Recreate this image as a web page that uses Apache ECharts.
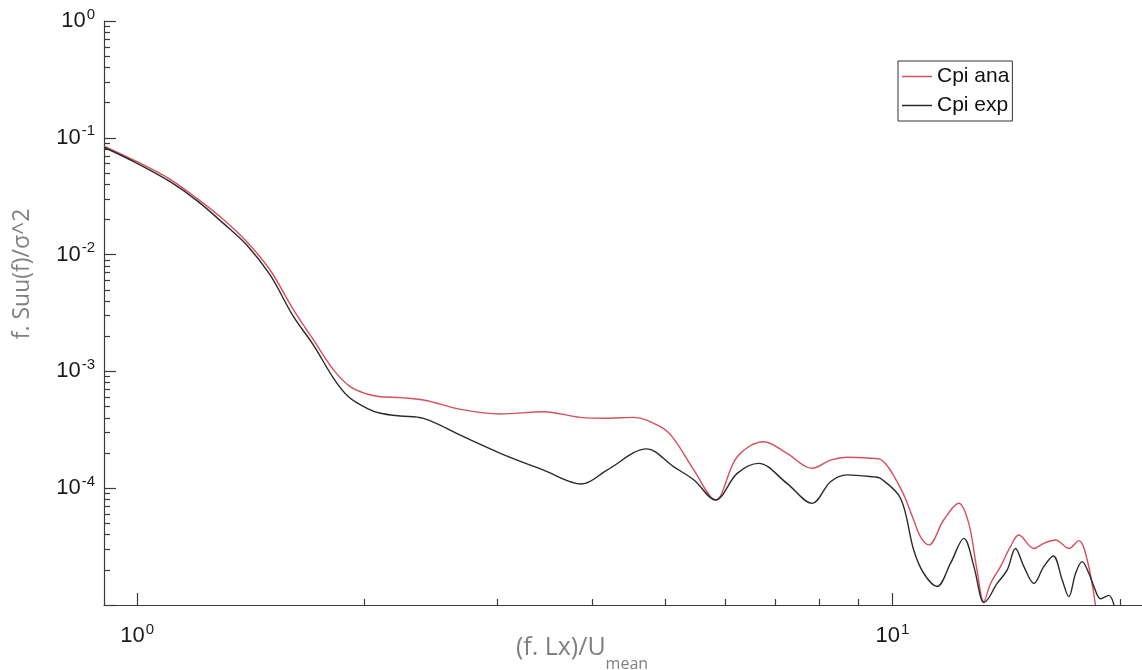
<!DOCTYPE html>
<html>
<head>
<meta charset="utf-8">
<script src="https://cdn.jsdelivr.net/npm/echarts@6/dist/echarts.min.js"></script>
<style>
  html, body { margin: 0; padding: 0; background: #fff; }
  #chart { width: 1142px; height: 670px; }
</style>
</head>
<body>
<div id="chart"></div>
<script>
// Normalised spectrum f.Suu(f)/sigma^2 against reduced frequency (f.Lx)/U_mean
const anaX = [0.904, 1.0, 1.106, 1.2, 1.301, 1.397, 1.5, 1.611, 1.712, 1.82, 1.915, 2.015, 2.1, 2.23, 2.394,
  2.705, 3.026, 3.452, 3.862, 4.19, 4.544, 4.93, 5.13, 5.46, 5.83, 6.23, 6.755, 7.25, 7.83, 8.28, 8.71,
  9.45, 9.64, 10.25, 10.67, 10.89, 11.17, 11.69, 12.24, 12.62, 12.94, 13.21, 13.49, 13.9, 14.33, 14.7,
  15.39, 15.86, 16.44, 17.12, 17.65, 18.11, 18.57];
const anaY = [0.085, 0.0624, 0.0441, 0.0303, 0.0200, 0.0129, 0.00738, 0.00336, 0.00186, 0.00103, 0.00074,
  0.00064, 0.000607, 0.000596, 0.000569, 0.000468, 0.000432, 0.000452, 0.000404, 0.000397, 0.000404,
  0.000336, 0.000267, 0.000143, 0.0000793, 0.000186, 0.00025, 0.000199, 0.000148, 0.000174, 0.000184,
  0.00018, 0.000177, 0.0001, 0.0000534, 0.0000385, 0.0000327, 0.0000534, 0.0000743, 0.00005, 0.00002,
  0.0000107, 0.0000153, 0.0000213, 0.0000316, 0.0000397, 0.0000305, 0.0000337, 0.000036, 0.0000305,
  0.0000356, 0.0000243, 0.00001];

const expX = [0.904, 1.0, 1.106, 1.2, 1.301, 1.397, 1.5, 1.611, 1.712, 1.82, 1.905, 2.015, 2.1, 2.23, 2.394,
  2.705, 3.026, 3.452, 3.88, 4.19, 4.73, 5.13, 5.46, 5.83, 6.23, 6.65, 7.25, 7.83, 8.28, 8.71, 9.45, 9.64,
  10.25, 10.67, 11.0, 11.46, 11.94, 12.43, 12.82, 13.08, 13.21, 13.76, 14.19, 14.55, 14.93, 15.39, 15.86,
  16.33, 16.78, 17.12, 17.48, 17.83, 18.2, 18.48, 18.86, 19.34, 19.65];
const expY = [0.083, 0.0605, 0.0421, 0.029, 0.0185, 0.0121, 0.00669, 0.00294, 0.00168, 0.000873, 0.000607,
  0.000483, 0.000438, 0.000415, 0.000396, 0.000276, 0.000199, 0.000143, 0.0001087, 0.000143, 0.000217,
  0.000153, 0.0001175, 0.0000793, 0.000134, 0.000163, 0.00011, 0.0000742, 0.0001137, 0.00013, 0.000125,
  0.0001216, 0.0000819, 0.0000296, 0.0000187, 0.0000144, 0.0000228, 0.0000372, 0.0000213, 0.0000118,
  0.0000105, 0.0000153, 0.00002, 0.0000305, 0.0000213, 0.0000153, 0.0000213, 0.0000263, 0.0000164,
  0.0000118, 0.0000187, 0.0000235, 0.0000187, 0.0000144, 0.0000113, 0.0000121, 0.00001];

const seriesNames = ['Cpi ana', 'Cpi exp'];

// axis ranges and tick positions
const xRange = [0.904, 21.4];
const yRange = [1e-5, 1];
const xMajorTicks = [1, 10];
const xMinorTicks = [2, 3, 4, 5, 6, 7, 8, 9, 20];
const yMajorTicks = [1e-5, 1e-4, 1e-3, 1e-2, 1e-1, 1];
const yLabelTicks = [1e-4, 1e-3, 1e-2, 1e-1, 1];
const yMinorTicks = [];
for (let k = -5; k <= -1; k++) {
  for (let j = 2; j <= 9; j++) yMinorTicks.push(+(j * Math.pow(10, k)).toPrecision(3));
}

const zip = (xs, ys) => xs.map((x, i) => [x, ys[i]]);

const axisColor = '#3a3a3a';
const powerLabel = v => '{b|10}{s|' + Math.round(Math.log10(v)) + '}';
const powerRich = {
  b: { fontSize: 22, fontFamily: 'Liberation Sans', color: '#1a1a1a', lineHeight: 22, verticalAlign: 'bottom' },
  s: { fontSize: 15, fontFamily: 'Liberation Sans', color: '#1a1a1a', lineHeight: 15, verticalAlign: 'bottom', padding: [0, 0, 10, 1] }
};

const chart = echarts.init(document.getElementById('chart'), null, { renderer: 'canvas' });

chart.setOption({
  animation: false,
  backgroundColor: '#ffffff',
  grid: { left: 104, top: 21, right: 0, bottom: 65, containLabel: false },
  xAxis: [
    {
      type: 'log', logBase: 10, min: xRange[0], max: xRange[1], position: 'bottom',
      axisLine: { show: true, lineStyle: { color: axisColor, width: 1.2 } },
      axisTick: { show: true, inside: true, length: 12, customValues: xMajorTicks, lineStyle: { color: axisColor, width: 1.2 } },
      axisLabel: { show: true, margin: 20, customValues: xMajorTicks, formatter: powerLabel, rich: powerRich },
      splitLine: { show: false }, minorTick: { show: false }
    },
    {
      type: 'log', logBase: 10, min: xRange[0], max: xRange[1], position: 'bottom',
      axisLine: { show: false },
      axisTick: { show: true, inside: true, length: 6, customValues: xMinorTicks, lineStyle: { color: axisColor, width: 1.2 } },
      axisLabel: { show: false },
      splitLine: { show: false }
    }
  ],
  yAxis: [
    {
      type: 'log', logBase: 10, min: yRange[0], max: yRange[1], position: 'left',
      axisLine: { show: true, lineStyle: { color: axisColor, width: 1.2 } },
      axisTick: { show: true, inside: true, length: 12, customValues: yMajorTicks, lineStyle: { color: axisColor, width: 1.2 } },
      axisLabel: { show: true, margin: 9, customValues: yLabelTicks, formatter: powerLabel, rich: powerRich },
      splitLine: { show: false }, minorTick: { show: false }
    },
    {
      type: 'log', logBase: 10, min: yRange[0], max: yRange[1], position: 'left',
      axisLine: { show: false },
      axisTick: { show: true, inside: true, length: 6, customValues: yMinorTicks, lineStyle: { color: axisColor, width: 1.2 } },
      axisLabel: { show: false },
      splitLine: { show: false }
    }
  ],
  legend: {
    orient: 'vertical', left: 898, top: 61,
    padding: [3, 3, 3, 4], itemGap: 4, itemWidth: 30, itemHeight: 1.5, icon: 'rect',
    borderColor: '#333', borderWidth: 1, backgroundColor: '#fff',
    textStyle: { fontSize: 21, fontFamily: 'Liberation Sans', color: '#111', lineHeight: 25 },
    data: seriesNames
  },
  series: [
    {
      name: seriesNames[0], type: 'line', xAxisIndex: 0, yAxisIndex: 0,
      data: zip(anaX, anaY), smooth: 0.35, showSymbol: false, symbol: 'none',
      lineStyle: { color: '#d5505c', width: 1.4 }, itemStyle: { color: '#d5505c' }, z: 3
    },
    {
      name: seriesNames[1], type: 'line', xAxisIndex: 0, yAxisIndex: 0,
      data: zip(expX, expY), smooth: 0.35, showSymbol: false, symbol: 'none',
      lineStyle: { color: '#2a2a2a', width: 1.4 }, itemStyle: { color: '#2a2a2a' }, z: 4
    }
  ],
  graphic: [
    {
      type: 'text', x: 22, y: 274, rotation: Math.PI / 2,
      style: {
        text: 'f. Suu(f)/σ^2', fill: '#808080', fontSize: 23, fontFamily: 'Open Sans',
        align: 'center', verticalAlign: 'middle'
      }
    },
    {
      type: 'text', x: 582, y: 672,
      style: {
        text: '{a|(f. Lx)/U}{m|mean}', align: 'center', verticalAlign: 'bottom',
        rich: {
          a: { fontSize: 25, fontFamily: 'Open Sans', fill: '#808080', lineHeight: 25, verticalAlign: 'bottom', padding: [0, 0, 12, 0] },
          m: { fontSize: 16, fontFamily: 'Open Sans', fill: '#808080', lineHeight: 16, verticalAlign: 'bottom' }
        }
      }
    }
  ]
});
</script>
</body>
</html>
